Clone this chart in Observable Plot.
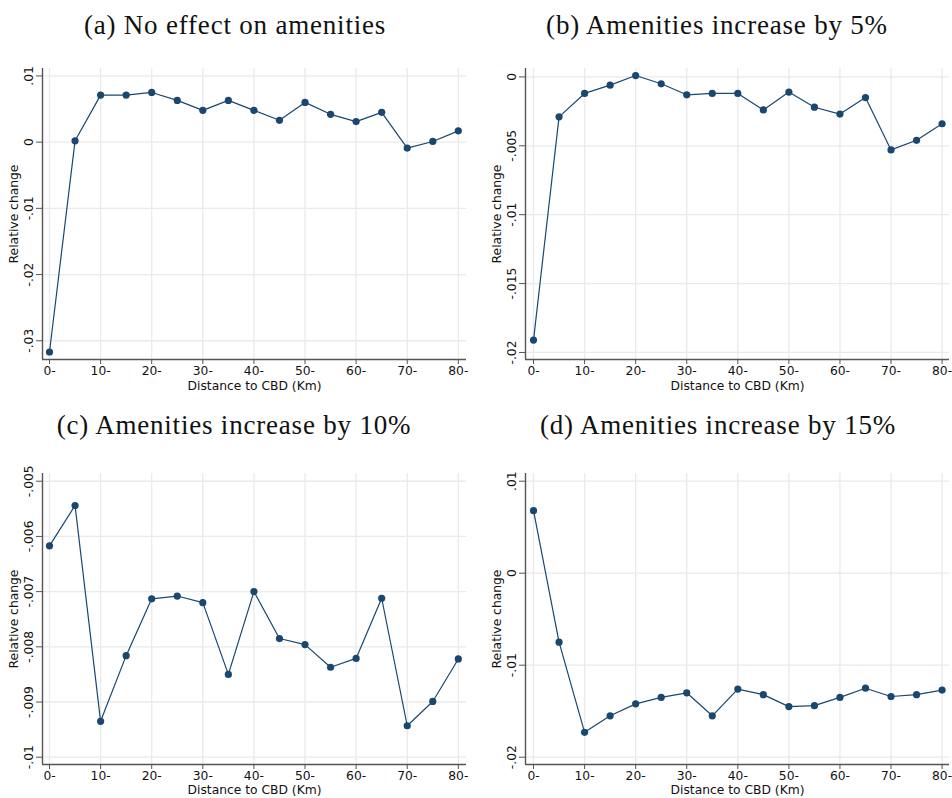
<!DOCTYPE html>
<html><head><meta charset="utf-8">
<script src="https://cdn.jsdelivr.net/npm/d3@7"></script>
<script src="https://cdn.jsdelivr.net/npm/@observablehq/plot@0.6"></script>
<style>
body{margin:0;background:#fff;}
#wrap{position:relative;width:952px;height:798px;overflow:hidden;}
.title{position:absolute;font-family:"Liberation Serif","DejaVu Serif",serif;font-size:27px;letter-spacing:0.8px;line-height:30px;text-align:center;white-space:nowrap;color:#111;}
.panel{position:absolute;}
</style></head><body><div id="wrap"></div>
<script>
// ---- data ----
const distance = [0,5,10,15,20,25,30,35,40,45,50,55,60,65,70,75,80];
const xTicks = [0,10,20,30,40,50,60,70,80];
const xTickLabels = ["0-","10-","20-","30-","40-","50-","60-","70-","80-"];

const titles = ["(a) No effect on amenities","(b) Amenities increase by 5%","(c) Amenities increase by 10%","(d) Amenities increase by 15%"];

const changeA = [-0.0317,0.0002,0.0071,0.0071,0.0075,0.0063,0.0048,0.0063,0.0048,0.0033,0.0060,0.0042,0.0031,0.0045,-0.0009,0.0001,0.0017];
const changeB = [-0.0191,-0.0029,-0.0012,-0.0006,0.0001,-0.0005,-0.0013,-0.0012,-0.0012,-0.0024,-0.0011,-0.0022,-0.0027,-0.0015,-0.0053,-0.0046,-0.0034];
const changeC = [-0.00617,-0.00544,-0.00935,-0.00816,-0.00713,-0.00708,-0.00720,-0.00850,-0.00700,-0.00785,-0.00796,-0.00837,-0.00821,-0.00712,-0.00943,-0.00899,-0.00822];
const changeD = [0.0068,-0.0075,-0.0173,-0.0155,-0.0142,-0.0135,-0.0130,-0.0155,-0.0126,-0.0132,-0.0145,-0.0144,-0.0135,-0.0125,-0.0134,-0.0132,-0.0127];

const yTicksA = [-0.03,-0.02,-0.01,0,0.01];
const yTickLabelsA = ["-.03","-.02","-.01","0",".01"];
const yTicksB = [-0.02,-0.015,-0.01,-0.005,0];
const yTickLabelsB = ["-.02","-.015","-.01","-.005","0"];
const yTicksC = [-0.01,-0.009,-0.008,-0.007,-0.006,-0.005];
const yTickLabelsC = ["-.01","-.009","-.008","-.007","-.006","-.005"];
const yTicksD = [-0.02,-0.01,0,0.01];
const yTickLabelsD = ["-.02","-.01","0",".01"];

const xLabel = "Distance to CBD (Km)";
const yLabel = "Relative change";

// ---- layout ----
const NAVY = "#1a476f", AXIS = "#555", GRID = "#eaeaea";
const wrap = document.getElementById("wrap");

function panel(cfg) {
  const data = distance.map((d, i) => ({distance: d, change: cfg.values[i]}));
  const yMap = new Map(cfg.yTicks.map((t, i) => [t, cfg.yLabels[i]]));
  const xMap = new Map(xTicks.map((t, i) => [t, xTickLabels[i]]));
  const chart = Plot.plot({
    width: 476, height: cfg.height,
    marginLeft: cfg.ml, marginRight: cfg.mr, marginTop: cfg.mt, marginBottom: cfg.mb,
    style: {fontFamily: "DejaVu Sans", fontSize: "12.3px", color: "#111", background: "transparent", overflow: "visible"},
    x: {domain: cfg.xDom},
    y: {domain: cfg.yDom},
    marks: [
      Plot.gridX(xTicks, {stroke: GRID, strokeOpacity: 1, strokeWidth: 1.3}),
      Plot.gridY(cfg.yTicks, {stroke: GRID, strokeOpacity: 1, strokeWidth: 1.3}),
      Plot.axisX(xTicks, {tickFormat: d => xMap.get(d), tickSize: 5, tickPadding: 2, stroke: AXIS, label: null}),
      Plot.axisY(cfg.yTicks, {tickFormat: d => yMap.get(d), tickRotate: -90, tickSize: 6, tickPadding: 4, stroke: AXIS, label: null}),
      Plot.text([xLabel], {text: d => d, frameAnchor: "bottom", dy: cfg.xdy, textAnchor: "middle", lineAnchor: "middle", fill: "#111"}),
      Plot.text([yLabel], {text: d => d, frameAnchor: "left", dx: cfg.ydx, rotate: -90, textAnchor: "middle", lineAnchor: "middle", fill: "#111"}),
      Plot.ruleX([cfg.xDom[0]], {stroke: AXIS, strokeWidth: 1.4}),
      Plot.ruleY([cfg.yDom[0]], {stroke: AXIS, strokeWidth: 1.4}),
      Plot.line(data, {x: "distance", y: "change", stroke: NAVY, strokeWidth: 1.2}),
      Plot.dot(data, {x: "distance", y: "change", r: 3.6, fill: NAVY, stroke: null})
    ]
  });
  const div = document.createElement("div");
  div.className = "panel";
  div.style.left = cfg.left + "px";
  div.style.top = cfg.top + "px";
  div.appendChild(chart);
  wrap.appendChild(div);

  const t = document.createElement("div");
  t.className = "title";
  t.textContent = cfg.title;
  t.style.left = (cfg.tcx - 250) + "px";
  t.style.width = "500px";
  t.style.top = cfg.ttop + "px";
  wrap.appendChild(t);
}

const LEFT = {ml: 42, mr: 10, xDom: [-1.37, 81.6], ydx: -28};
const RIGHT = {ml: 49, mr: 3, xDom: [-1.57, 81.45], ydx: -28.5};

panel({...LEFT, left: 0, top: 60, height: 330, mt: 8, mb: 31, xdy: 26.5,
  yDom: [-0.03283, 0.01112], yTicks: yTicksA, yLabels: yTickLabelsA, values: changeA,
  title: titles[0], tcx: 235, ttop: 10});
panel({...RIGHT, left: 476, top: 60, height: 330, mt: 8, mb: 31, xdy: 26.5,
  yDom: [-0.02051, 0.00061], yTicks: yTicksB, yLabels: yTickLabelsB, values: changeB,
  title: titles[1], tcx: 717, ttop: 10});
panel({...LEFT, left: 0, top: 450, height: 348, mt: 23, mb: 34, xdy: 26,
  yDom: [-0.010132, -0.00486], yTicks: yTicksC, yLabels: yTickLabelsC, values: changeC,
  title: titles[2], tcx: 234, ttop: 410});
panel({...RIGHT, left: 476, top: 450, height: 348, mt: 23, mb: 34, xdy: 26,
  yDom: [-0.020793, 0.010837], yTicks: yTicksD, yLabels: yTickLabelsD, values: changeD,
  title: titles[3], tcx: 718, ttop: 410});
</script>
</body></html>
